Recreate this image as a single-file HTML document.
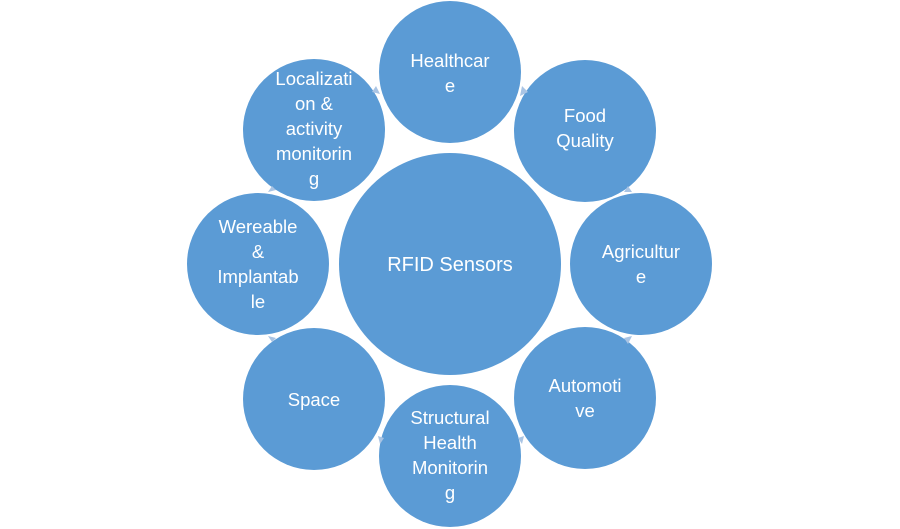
<!DOCTYPE html>
<html><head><style>
html,body{margin:0;padding:0;background:#fff;}
svg{display:block;}
text{font-family:"Liberation Sans",sans-serif;font-size:18.5px;fill:#fff;text-anchor:middle;}
</style></head><body>
<svg width="900" height="529" viewBox="0 0 900 529">
<g fill="#5B9BD5">
<circle cx="450" cy="264" r="111"/>
<circle cx="450" cy="72" r="71"/>
<circle cx="585" cy="131" r="71"/>
<circle cx="641" cy="264" r="71"/>
<circle cx="585" cy="398" r="71"/>
<circle cx="450" cy="456" r="71"/>
<circle cx="314" cy="399" r="71"/>
<circle cx="258" cy="264" r="71"/>
<circle cx="314" cy="130" r="71"/>
</g>
<g fill="#A9C4E4">
<polygon points="522,86 528,92 520,96"/>
<polygon points="628,186 632,192 624,192"/>
<polygon points="632,336 628,344 624,338"/>
<polygon points="524,436 522,444 518,438"/>
<polygon points="378,436 380,444 384,438"/>
<polygon points="268,336 272,342 276,338"/>
<polygon points="272,186 268,192 276,190"/>
<polygon points="376,86 372,92 380,94"/>
</g>
<text x="450" y="271" style="font-size:20px">RFID Sensors</text>
<text x="450" y="67">Healthcar</text><text x="450" y="92">e</text>
<text x="585" y="122">Food</text><text x="585" y="147">Quality</text>
<text x="641" y="258">Agricultur</text><text x="641" y="283">e</text>
<text x="585" y="392">Automoti</text><text x="585" y="417">ve</text>
<text x="450" y="424">Structural</text><text x="450" y="449">Health</text><text x="450" y="474">Monitorin</text><text x="450" y="499">g</text>
<text x="314" y="406">Space</text>
<text x="258" y="233">Wereable</text><text x="258" y="258">&amp;</text><text x="258" y="283">Implantab</text><text x="258" y="308">le</text>
<text x="314" y="85">Localizati</text><text x="314" y="110">on &amp;</text><text x="314" y="135">activity</text><text x="314" y="160">monitorin</text><text x="314" y="185">g</text>
</svg>
</body></html>
